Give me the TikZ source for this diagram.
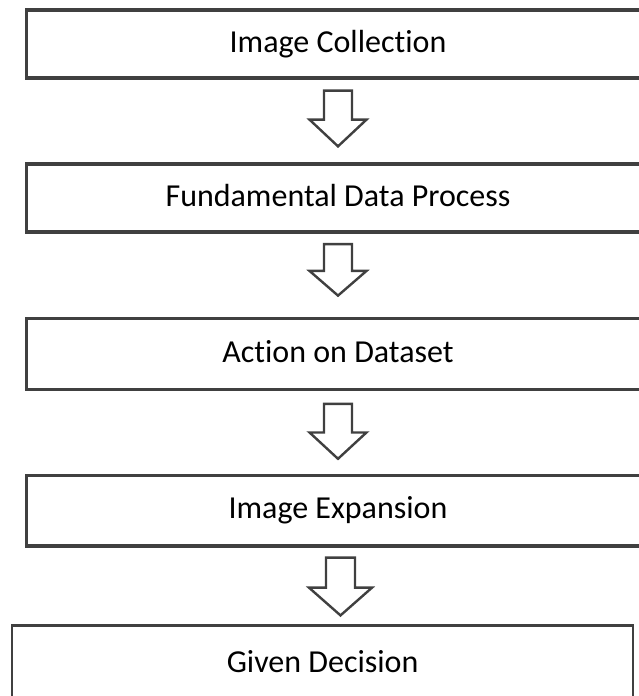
\documentclass[tikz,border=0pt]{standalone}
\usepackage{fontspec}
\setmainfont[Ligatures=NoCommon]{Carlito}
\usetikzlibrary{calc}
\definecolor{edge}{HTML}{404040}
\begin{document}
\begin{tikzpicture}[x=1pt,y=-1pt,
  stage/.style={draw=edge, line width=3.3pt, rectangle, inner sep=0pt,
    minimum width=623pt, font=\fontsize{32}{38}\selectfont, text=black,
    text height=22pt, text depth=6pt},
  blockarrow/.style={draw=edge, line width=2.4pt, fill=white, line join=miter},
]
\useasboundingbox (0,0) rectangle (639,696);
\clip (0,0) rectangle (639,696);

% process stages
\node[stage, minimum height=68pt] (s1) at (338,44) {Image Collection};
\node[stage, minimum height=68pt] (s2) at (338,198) {Fundamental Data Process};
\node[stage, minimum height=71.5pt] (s3) at (338,354) {Action on Dataset};
\node[stage, minimum height=70.5pt] (s4) at (338,510.7) {Image Expansion};
\node[stage, line width=2.6pt, minimum width=621pt, minimum height=74pt, text height=25pt] (s5) at (322.6,662.7) {Given Decision};

% hollow down arrows between the stages: top of shaft and tip
\coordinate (t1) at ($(s1.south)+(0,11)$);    \coordinate (b1) at ($(t1 |- s2.north)+(0,-16)$);
\coordinate (t2) at ($(s2.south)+(0,10.5)$);  \coordinate (b2) at ($(t2 |- s3.north)+(0,-21)$);
\coordinate (t3) at ($(s3.south)+(0,12.5)$);  \coordinate (b3) at ($(t3 |- s4.north)+(0,-15)$);
\coordinate (t4) at ($(s4.south)+(2.5,10)$);  \coordinate (b4) at ($(t4 |- s5.north)+(0,-9)$);

\newcommand\hollowarrow[4]{% top, tip, half shaft, half head
  \draw[blockarrow]
    ($(#1)+(-#3,0)$) -- ($(#1)+(#3,0)$)
    -- ($(#1)!0.52!(#2)+(#3,0)$) -- ($(#1)!0.52!(#2)+(#4,0)$)
    -- (#2)
    -- ($(#1)!0.52!(#2)+(-#4,0)$) -- ($(#1)!0.52!(#2)+(-#3,0)$)
    -- cycle;}
\hollowarrow{t1}{b1}{14}{28.5}
\hollowarrow{t2}{b2}{14}{28.5}
\hollowarrow{t3}{b3}{14}{28.5}
\hollowarrow{t4}{b4}{14.5}{31.5}
\end{tikzpicture}
\end{document}
